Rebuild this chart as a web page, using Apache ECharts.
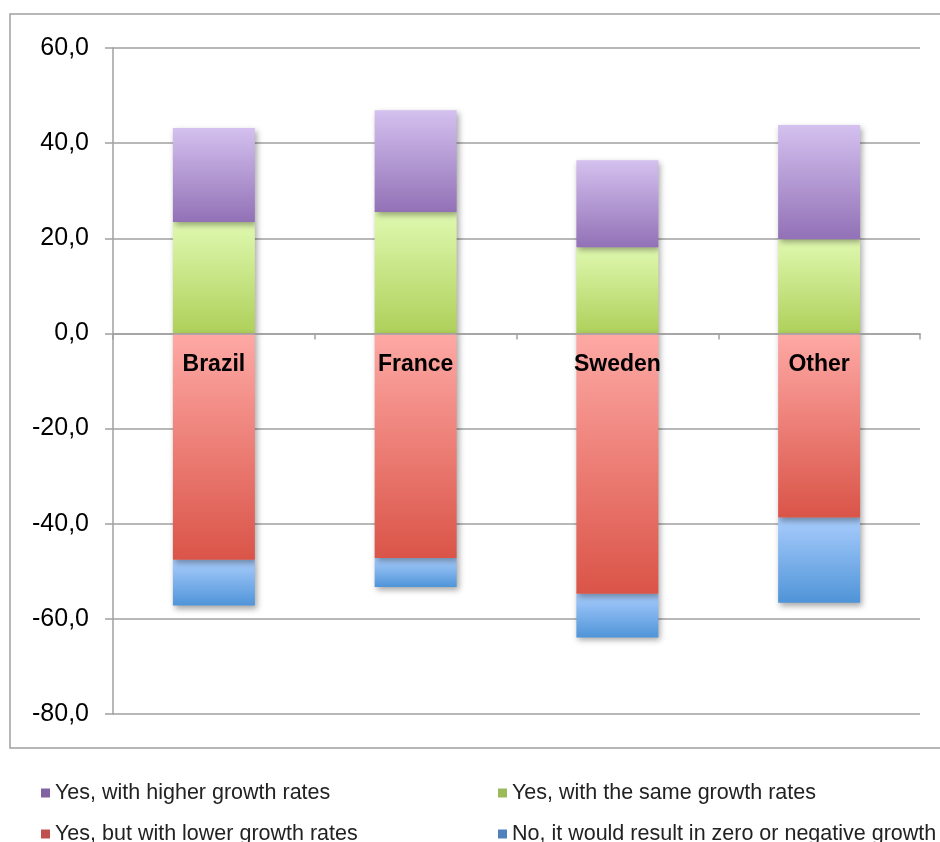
<!DOCTYPE html>
<html>
<head>
<meta charset="utf-8">
<script src="https://cdn.jsdelivr.net/npm/echarts@6/dist/echarts.min.js"></script>
<style>
  html, body { margin: 0; padding: 0; background: #fff; }
  #chart { width: 940px; height: 842px; }
</style>
</head>
<body>
<div id="chart"></div>
<script>
// Categories and stacked segment values (positive stack upward, negative stack downward)
const categories = ['Brazil', 'France', 'Sweden', 'Other'];
const sameGrowth   = [23.4, 25.5, 18.1, 19.8];
const higherGrowth = [19.8, 21.4, 18.3, 24.0];
const lowerGrowth  = [-47.6, -47.2, -54.7, -38.7];
const noGrowth     = [-9.6, -6.1, -9.2, -17.9];

const seriesNames = [
  'Yes, with higher growth rates',
  'Yes, with the same growth rates',
  'Yes, but with lower growth rates',
  'No, it would result in zero or negative growth'
];

const FONT = '"Liberation Sans", Arial, Helvetica, sans-serif';
const GRID_GRAY = '#a0a0a0';

function grad(top, bottom) {
  return new echarts.graphic.LinearGradient(0, 0, 0, 1, [
    { offset: 0, color: top },
    { offset: 1, color: bottom }
  ]);
}

function barStyle(top, bottom) {
  return {
    color: grad(top, bottom),
    shadowColor: 'rgba(0,0,0,0.35)',
    shadowBlur: 6,
    shadowOffsetX: 2,
    shadowOffsetY: 3
  };
}

function legendAt(name, color, left, top) {
  return {
    show: true,
    left: left,
    top: top,
    icon: 'rect',
    itemWidth: 9,
    itemHeight: 9,
    itemGap: 0,
    padding: 0,
    selectedMode: false,
    textStyle: { fontFamily: FONT, fontSize: 21.5, color: '#222' },
    data: [{ name: name, itemStyle: { color: color } }]
  };
}

const chart = echarts.init(document.getElementById('chart'), null, { renderer: 'canvas' });

chart.setOption({
  animation: false,
  backgroundColor: '#fff',
  textStyle: { fontFamily: FONT },
  graphic: [{
    type: 'rect',
    z: -10,
    silent: true,
    shape: { x: 10, y: 14, width: 940, height: 734 },
    style: { fill: 'none', stroke: GRID_GRAY, lineWidth: 1.5 }
  }],
  grid: { left: 113, right: 20, top: 48, bottom: 128, containLabel: false },
  legend: [
    legendAt(seriesNames[0], '#8064a2', 41, 782),
    legendAt(seriesNames[1], '#9bbb59', 498, 782),
    legendAt(seriesNames[2], '#c0504d', 41, 823),
    legendAt(seriesNames[3], '#4f81bd', 498, 823)
  ],
  xAxis: {
    type: 'category',
    data: categories,
    boundaryGap: true,
    axisLine: { onZero: true, lineStyle: { color: GRID_GRAY, width: 1.5 } },
    axisTick: { show: true, length: 6, interval: 0, lineStyle: { color: GRID_GRAY, width: 1.5 } },
    axisLabel: { show: false },
    z: 10
  },
  yAxis: {
    type: 'value',
    min: -80,
    max: 60,
    interval: 20,
    axisLine: { show: true, lineStyle: { color: GRID_GRAY, width: 1.5 } },
    axisTick: { show: true, length: 8, lineStyle: { color: GRID_GRAY, width: 1.5 } },
    splitLine: { show: true, lineStyle: { color: GRID_GRAY, width: 1.5 } },
    axisLabel: {
      margin: 24,
      fontFamily: FONT,
      fontSize: 25,
      color: '#000',
      formatter: v => v.toFixed(1).replace('.', ',')
    }
  },
  series: [
    {
      name: seriesNames[1], type: 'bar', stack: 'total', barWidth: 82,
      itemStyle: barStyle('#e0f9b0', '#aed05a'), data: sameGrowth
    },
    {
      name: seriesNames[0], type: 'bar', stack: 'total', barWidth: 82,
      itemStyle: barStyle('#d4c1ef', '#9271b6'), data: higherGrowth
    },
    {
      name: seriesNames[2], type: 'bar', stack: 'total', barWidth: 82,
      itemStyle: barStyle('#fea9a5', '#da5448'), data: lowerGrowth,
      // category names sit just below the zero line, on top of the bars
      label: {
        show: true,
        position: 'insideTop',
        distance: 20,
        formatter: p => p.name,
        fontFamily: FONT,
        fontSize: 23,
        fontWeight: 'bold',
        color: '#000'
      },
      z: 3
    },
    {
      name: seriesNames[3], type: 'bar', stack: 'total', barWidth: 82,
      itemStyle: barStyle('#a9cdfd', '#4f94d8'), data: noGrowth
    }
  ]
});
</script>
</body>
</html>
